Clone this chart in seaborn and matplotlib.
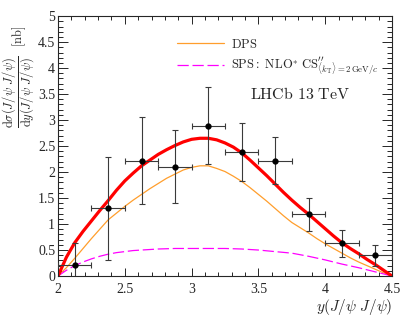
import numpy as np
import pandas as pd
import matplotlib
matplotlib.use("Agg")
import matplotlib.pyplot as plt
from matplotlib.ticker import MultipleLocator
import seaborn as sb

# LHCb data: y(J/psi J/psi) bins of width 0.25
y_bin = [2.125, 2.375, 2.625, 2.875, 3.125, 3.375, 3.625, 3.875, 4.125, 4.375]
y_halfwidth = [0.125] * 10
xsec = [0.21, 1.30, 2.22, 2.10, 2.89, 2.38, 2.22, 1.19, 0.63, 0.40]
xsec_err = [0.42, 0.99, 0.83, 0.70, 0.74, 0.56, 0.45, 0.32, 0.26, 0.20]

# theory curves
y_curve = [2.0, 2.0625, 2.125, 2.1875, 2.25, 2.3125, 2.375, 2.4375, 2.5, 2.5625,
           2.625, 2.6875, 2.75, 2.8125, 2.875, 2.9375, 3.0, 3.0625, 3.125, 3.1875,
           3.25, 3.3125, 3.375, 3.4375, 3.5, 3.5625, 3.625, 3.6875, 3.75, 3.8125,
           3.875, 3.9375, 4.0, 4.0625, 4.125, 4.1875, 4.25, 4.3125, 4.375, 4.4375, 4.5]
total = [0.0, 0.36, 0.64, 0.86, 1.06, 1.26, 1.45, 1.65, 1.83, 1.98,
         2.12, 2.23, 2.34, 2.43, 2.51, 2.58, 2.63, 2.65, 2.65, 2.62,
         2.56, 2.48, 2.37, 2.23, 2.08, 1.93, 1.77, 1.61, 1.46, 1.32,
         1.19, 1.05, 0.91, 0.77, 0.64, 0.53, 0.43, 0.32, 0.22, 0.11, 0.0]
dps = [0.0, 0.16, 0.34, 0.53, 0.72, 0.90, 1.08, 1.21, 1.34, 1.46,
       1.57, 1.68, 1.78, 1.88, 1.96, 2.04, 2.09, 2.12, 2.12, 2.07,
       2.01, 1.92, 1.82, 1.70, 1.57, 1.44, 1.30, 1.16, 1.03, 0.93,
       0.83, 0.72, 0.62, 0.53, 0.44, 0.35, 0.27, 0.20, 0.13, 0.06, 0.0]
sps = [0.0, 0.11, 0.20, 0.27, 0.33, 0.38, 0.42, 0.45, 0.47, 0.49,
       0.50, 0.51, 0.52, 0.525, 0.53, 0.53, 0.53, 0.53, 0.53, 0.53,
       0.53, 0.525, 0.52, 0.51, 0.50, 0.485, 0.47, 0.455, 0.44, 0.41,
       0.38, 0.345, 0.31, 0.27, 0.23, 0.195, 0.16, 0.12, 0.08, 0.04, 0.0]

if __name__ == '__main__':
    sb.set_style("ticks")
    plt.rcParams['font.family'] = ['Liberation Serif', 'DejaVu Serif']
    plt.rcParams['mathtext.fontset'] = 'cm'

    df = pd.DataFrame({"y": y_curve, "total": total, "dps": dps, "sps": sps})

    fig = plt.figure(figsize=(4.12, 3.29), dpi=100)
    ax = fig.add_axes([0.1408, 0.161, 0.8107, 0.790])

    sb.lineplot(data=df, x="y", y="dps", ax=ax, color="#ff9e2c", lw=0.9,
                label=r"$\mathrm{DPS}$")
    sb.lineplot(data=df, x="y", y="sps", ax=ax, color="#ff00ff", lw=0.9,
                label=r"$\mathrm{SPS{:}\ NLO}^{*}\ \mathrm{CS}^{\prime\prime}_{\langle k_{\mathrm{T}}\rangle=2\,\mathrm{GeV}/c}$")
    ax.lines[-1].set_dashes((9, 3))
    sb.lineplot(data=df, x="y", y="total", ax=ax, color="#ff0000", lw=2.3)

    ax.errorbar(y_bin, xsec, yerr=xsec_err, xerr=y_halfwidth, fmt='o', color='k',
                ecolor='#3a3a3a', elinewidth=0.8, capsize=2.5, capthick=0.8,
                markersize=3.5, zorder=5)

    ax.set_xlim(2, 4.5)
    ax.set_ylim(0, 5)
    ax.xaxis.set_major_locator(MultipleLocator(0.5))
    ax.xaxis.set_minor_locator(MultipleLocator(0.1))
    ax.yaxis.set_major_locator(MultipleLocator(0.5))
    ax.yaxis.set_minor_locator(MultipleLocator(0.1))
    ax.set_xticks([2, 2.5, 3, 3.5, 4, 4.5], ["2", "2.5", "3", "3.5", "4", "4.5"])
    ax.set_yticks([0, 0.5, 1, 1.5, 2, 2.5, 3, 3.5, 4, 4.5, 5],
                  ["0", "0.5", "1", "1.5", "2", "2.5", "3", "3.5", "4", "4.5", "5"])
    ax.tick_params(axis='both', which='both', direction='in', top=True, right=True,
                   labelsize=10, width=0.7)
    ax.tick_params(axis='x', which='major', length=5.8, pad=5)
    ax.tick_params(axis='x', which='minor', length=2.9)
    ax.tick_params(axis='y', which='major', length=7.5, pad=2)
    ax.tick_params(axis='y', which='minor', length=3.8)
    for s in ax.spines.values():
        s.set_linewidth(0.8)

    ax.set_xlabel(r"$y(J/\psi\ J/\psi)$", loc='right', fontsize=11, labelpad=1)
    ax.set_ylabel(r"$\dfrac{\mathrm{d}\sigma(J/\psi\ J/\psi)}{\mathrm{d}y(J/\psi\ J/\psi)}$   $[\mathrm{nb}]$",
                  loc='top', fontsize=9)
    ax.yaxis.set_label_coords(-0.063, 0.965)

    ax.text(3.44, 3.48, r"$\mathrm{LHCb\ 13\ TeV}$", fontsize=11.5, va='center')

    ax.legend(loc='upper left', bbox_to_anchor=(0.33, 0.95), frameon=False,
              fontsize=9, handlelength=3.8, handletextpad=0.5,
              labelspacing=0.3, borderpad=0.2)

    fig.savefig("out.png", dpi=100)
